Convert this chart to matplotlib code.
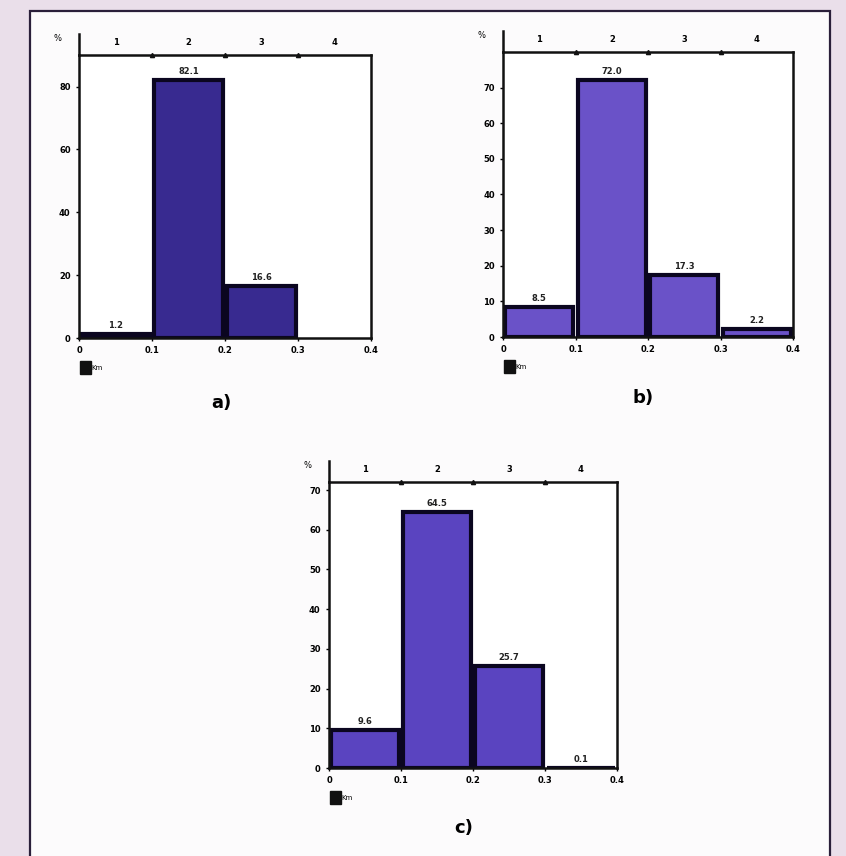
import numpy as np
import matplotlib
matplotlib.use("Agg")
import matplotlib.pyplot as plt
from matplotlib.patches import Patch, Rectangle

# bin edges (km) and bar values (%) for the three panels
edges = [0, 0.1, 0.2, 0.3, 0.4]
bin_labels = ["1", "2", "3", "4"]
x_ticklabels = ["0", "0.1", "0.2", "0.3", "0.4"]

vals_a = [1.2, 82.1, 16.6]
vals_b = [8.5, 72.0, 17.3, 2.2]
vals_c = [9.6, 64.5, 25.7, 0.1]

lab_a = ["1.2", "82.1", "16.6"]
lab_b = ["8.5", "72.0", "17.3", "2.2"]
lab_c = ["9.6", "64.5", "25.7", "0.1"]

fig = plt.figure(figsize=(8.46, 8.56), dpi=100)
fig.patch.set_facecolor("#eadfea")
# paper frame, kept behind the axes
frame = Rectangle((0.036, -0.01), 0.945, 0.997, transform=fig.transFigure,
                  facecolor="#fcfbfc", edgecolor="#2a1f3a", lw=1.6, zorder=-10)
fig.patches.append(frame)


def panel(rect, vals, labs, ylim, yticks, fill, letter, letter_pos):
    ax = fig.add_axes(rect)
    ax.set_facecolor("white")
    centers = [(edges[i] + edges[i + 1]) / 2 for i in range(len(vals))]
    ax.bar(centers, vals, width=0.094, color=fill, edgecolor="#0b0620", linewidth=3)
    for c, v, t in zip(centers, vals, labs):
        ax.text(c, v + ylim * 0.014, t, ha="center", va="bottom", fontsize=6,
                fontweight="bold", color="#222")
    ax.set_xlim(0, 0.4)
    ax.set_ylim(0, ylim)
    ax.set_xticks(edges)
    ax.set_xticklabels(x_ticklabels, fontsize=6, fontweight="bold")
    ax.set_yticks(yticks)
    ax.set_yticklabels([str(t) for t in yticks], fontsize=6, fontweight="bold")
    ax.tick_params(length=2, width=1, pad=4)
    for s in ax.spines.values():
        s.set_linewidth(1.8)
        s.set_color("#111")
    # left axis line runs up past the top frame
    ax.plot([0, 0], [1, 1.075], transform=ax.transAxes, color="#111", lw=1.8,
            clip_on=False)
    # top axis with bin numbers
    top = ax.secondary_xaxis("top")
    top.set_xticks([0.05, 0.15, 0.25, 0.35])
    top.set_xticklabels(bin_labels, fontsize=6, fontweight="bold")
    top.tick_params(length=0, pad=6)
    top.spines["top"].set_visible(False)
    ax.plot([0.1, 0.2, 0.3], [ylim] * 3, "^", ms=3, color="#111", clip_on=False)
    ax.text(-0.06, 1.05, "%", transform=ax.transAxes, fontsize=6, ha="right")
    ax.legend(handles=[Patch(facecolor="#111", edgecolor="#111")], labels=["Km"],
              loc="upper left", bbox_to_anchor=(-0.005, -0.07), frameon=False,
              fontsize=5, handlelength=1.5, handleheight=2.6, handletextpad=0.1,
              borderaxespad=0)
    fig.text(letter_pos[0], letter_pos[1], letter, fontsize=13, fontweight="bold",
             ha="center", va="center")
    return ax


panel([0.0934, 0.605, 0.345, 0.3306], vals_a, lab_a, 90, [0, 20, 40, 60, 80],
      "#382a90", "a)", (0.262, 0.529))
panel([0.5946, 0.6063, 0.343, 0.333], vals_b, lab_b, 80, [0, 10, 20, 30, 40, 50, 60, 70],
      "#6a52c8", "b)", (0.760, 0.535))
panel([0.3889, 0.1028, 0.3404, 0.334], vals_c, lab_c, 72, [0, 10, 20, 30, 40, 50, 60, 70],
      "#5a44c0", "c)", (0.548, 0.033))

fig.savefig("out.png", dpi=100, facecolor=fig.get_facecolor())
